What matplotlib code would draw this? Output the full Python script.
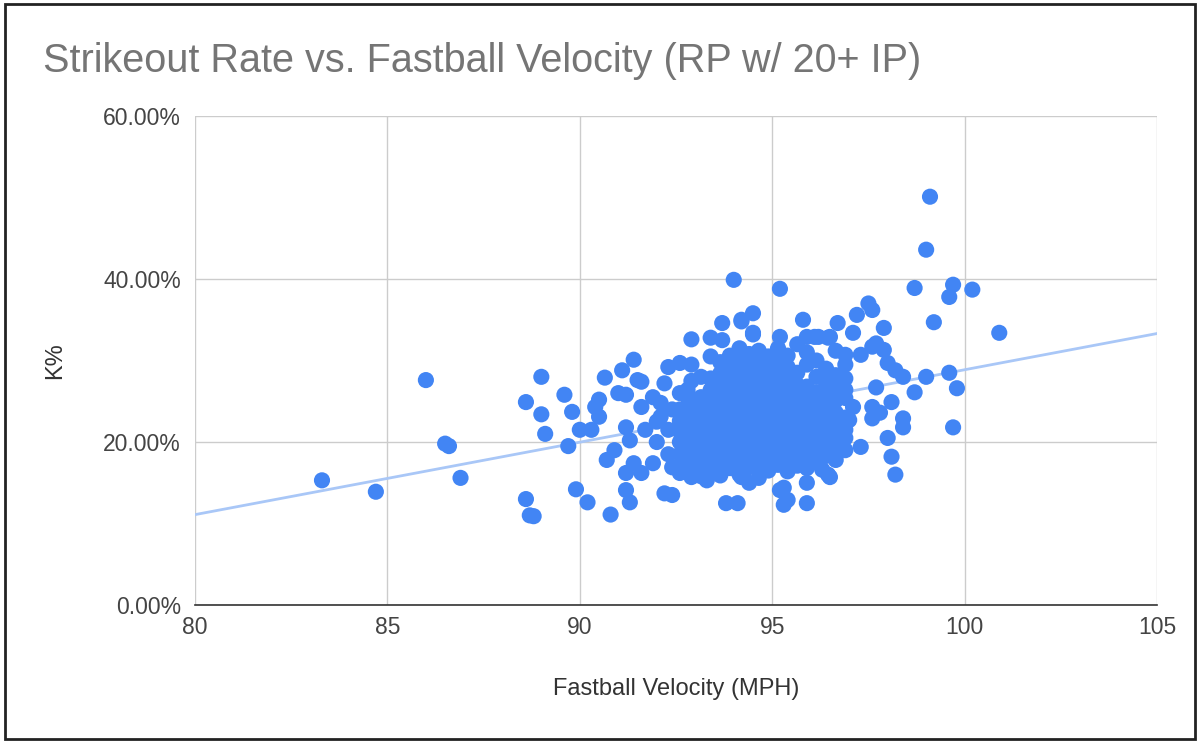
import numpy as np
import matplotlib
matplotlib.use("Agg")
import matplotlib.pyplot as plt
from matplotlib.patches import Rectangle

plt.rcParams['font.family'] = ['Liberation Sans', 'DejaVu Sans']

title = "Strikeout Rate vs. Fastball Velocity (RP w/ 20+ IP)"
x_label = "Fastball Velocity (MPH)"
y_label = "K%"
x_ticks = [80, 85, 90, 95, 100, 105]
y_ticks = [0, 20, 40, 60]

# Outlying / sparse points (velocity mph, K%)
vel_sparse = [83.3, 84.7, 86.0, 86.5, 86.6, 86.9, 88.6, 88.6, 88.7, 88.8,
              89.0, 89.0, 89.1, 89.6, 89.7, 89.8, 89.9, 90.0, 90.2, 90.3,
              90.4, 90.5, 90.5, 90.65, 90.7, 90.8, 90.9, 91.0, 91.1, 91.2,
              91.2, 91.2, 91.2, 91.3, 91.3, 91.4, 91.4, 91.5, 91.6, 91.6,
              91.6, 91.7, 91.9, 91.9, 92.1, 92.0, 92.1, 92.2, 92.2, 92.3,
              92.4, 92.4, 92.6, 92.6, 92.8, 92.8, 92.9, 92.9, 93.3, 93.4,
              93.7, 93.7, 93.8, 94.0, 94.1, 94.2, 94.2, 94.2, 94.4, 94.5,
              94.5, 94.5, 95.2, 95.2, 95.2, 95.3, 95.3, 95.4, 95.8, 95.9,
              95.9, 95.9, 96.1, 96.2, 96.3, 96.45, 96.45, 96.5, 96.5, 96.7,
              96.9, 96.9, 96.9, 97.0, 97.1, 97.1, 97.2, 97.3, 97.3, 97.5,
              97.6, 97.6, 97.6, 97.6, 97.7, 97.7, 97.8, 97.9, 97.9, 98.0,
              98.0, 98.1, 98.1, 98.2, 98.2, 98.4, 98.4, 98.4, 98.7, 98.7,
              99.0, 99.0, 99.1, 99.2, 99.6, 99.6, 99.7, 99.7, 99.8, 100.2,
              100.9, 92.0, 92.3, 92.4, 92.3]
k_sparse = [15.3, 13.9, 27.6, 19.8, 19.5, 15.6, 24.9, 13.0, 11.0, 10.9,
            28.0, 23.4, 21.0, 25.8, 19.5, 23.7, 14.2, 21.5, 12.6, 21.5,
            24.3, 25.2, 23.1, 27.9, 17.8, 11.1, 19.0, 26.0, 28.8, 25.8,
            21.8, 16.2, 14.1, 12.6, 20.2, 30.1, 17.4, 27.6, 27.4, 24.3,
            16.2, 21.5, 25.5, 17.4, 24.8, 22.5, 23.1, 27.2, 13.7, 29.2,
            13.5, 16.9, 29.7, 16.2, 26.4, 25.5, 32.6, 15.7, 15.3, 32.8,
            32.5, 34.6, 12.5, 39.9, 12.5, 34.8, 15.7, 35.0, 15.0, 35.8,
            33.2, 33.4, 38.8, 32.9, 14.1, 12.3, 14.4, 12.9, 35.0, 15.0,
            12.5, 32.9, 32.9, 32.9, 16.6, 16.0, 32.8, 32.9, 15.7, 34.6,
            26.4, 20.5, 30.7, 22.7, 33.4, 24.3, 35.6, 30.7, 19.4, 37.0,
            36.2, 31.7, 24.3, 22.9, 32.1, 26.7, 23.6, 34.0, 31.3, 29.7,
            20.5, 24.9, 18.2, 28.8, 16.0, 28.0, 22.9, 21.8, 38.9, 26.1,
            43.6, 28.0, 50.1, 34.7, 28.5, 37.8, 39.3, 21.8, 26.6, 38.7,
            33.4, 20.0, 21.5, 24.0, 18.5]

# Dense core of the cloud (velocity mph, K%)
vel_core = [92.6, 92.6, 92.6, 92.6, 92.6, 92.6, 92.6,
            92.9, 92.9, 92.9, 92.9, 92.9, 92.9, 92.9, 92.9, 92.9,
            93.15, 93.15, 93.15, 93.15, 93.15, 93.15, 93.15, 93.15, 93.15,
            93.4, 93.4, 93.4, 93.4, 93.4, 93.4, 93.4, 93.4, 93.4, 93.4,
            93.65, 93.65, 93.65, 93.65, 93.65, 93.65, 93.65, 93.65, 93.65, 93.65, 93.65,
            93.9, 93.9, 93.9, 93.9, 93.9, 93.9, 93.9, 93.9, 93.9, 93.9, 93.9,
            94.15, 94.15, 94.15, 94.15, 94.15, 94.15, 94.15, 94.15, 94.15, 94.15, 94.15, 94.15,
            94.4, 94.4, 94.4, 94.4, 94.4, 94.4, 94.4, 94.4, 94.4, 94.4, 94.4,
            94.65, 94.65, 94.65, 94.65, 94.65, 94.65, 94.65, 94.65, 94.65, 94.65, 94.65, 94.65,
            94.9, 94.9, 94.9, 94.9, 94.9, 94.9, 94.9, 94.9, 94.9, 94.9, 94.9,
            95.15, 95.15, 95.15, 95.15, 95.15, 95.15, 95.15, 95.15, 95.15, 95.15, 95.15,
            95.4, 95.4, 95.4, 95.4, 95.4, 95.4, 95.4, 95.4, 95.4, 95.4, 95.4,
            95.65, 95.65, 95.65, 95.65, 95.65, 95.65, 95.65, 95.65, 95.65, 95.65,
            95.9, 95.9, 95.9, 95.9, 95.9, 95.9, 95.9, 95.9, 95.9, 95.9,
            96.15, 96.15, 96.15, 96.15, 96.15, 96.15, 96.15, 96.15, 96.15,
            96.4, 96.4, 96.4, 96.4, 96.4, 96.4, 96.4, 96.4,
            96.65, 96.65, 96.65, 96.65, 96.65, 96.65, 96.65, 96.65, 96.65,
            96.9, 96.9, 96.9, 96.9, 96.9, 96.9]
k_core = [17.0, 18.5, 20.0, 21.3, 22.6, 24.0, 26.0,
          16.5, 18.0, 19.4, 20.8, 22.0, 23.3, 24.6, 27.5, 29.5,
          15.8, 17.3, 18.8, 20.2, 21.5, 22.8, 24.1, 25.5, 28.0,
          16.6, 18.0, 19.5, 20.9, 22.2, 23.6, 25.0, 26.4, 27.8, 30.5,
          15.9, 17.4, 18.7, 20.1, 21.4, 22.8, 24.2, 25.6, 27.0, 28.4, 29.8,
          16.8, 18.2, 19.6, 21.0, 22.3, 23.7, 25.1, 26.4, 27.7, 29.2, 30.6,
          16.0, 17.5, 18.9, 20.4, 21.7, 23.1, 24.5, 25.9, 27.2, 28.6, 30.0, 31.5,
          16.9, 18.3, 19.7, 21.0, 22.4, 23.8, 25.2, 26.6, 28.0, 29.4, 30.8,
          15.6, 17.2, 18.6, 20.0, 21.4, 22.7, 24.1, 25.5, 26.9, 28.3, 29.7, 31.2,
          16.5, 17.9, 19.3, 20.7, 22.1, 23.5, 24.9, 26.3, 27.6, 29.0, 30.5,
          17.2, 18.6, 20.0, 21.4, 22.8, 24.2, 25.6, 27.0, 28.4, 29.8, 31.5,
          16.4, 17.9, 19.3, 20.7, 22.1, 23.5, 24.9, 26.3, 27.7, 29.2, 30.6,
          17.1, 18.5, 20.0, 21.4, 22.8, 24.2, 25.6, 27.0, 28.5, 32.0,
          16.8, 18.2, 19.7, 21.1, 22.5, 23.9, 25.3, 26.8, 29.5, 31.0,
          17.5, 19.0, 20.4, 21.8, 23.2, 24.6, 26.1, 28.0, 30.0,
          18.3, 19.8, 21.2, 22.7, 24.1, 25.5, 27.2, 29.0,
          17.8, 19.3, 20.8, 22.2, 23.6, 25.1, 26.6, 28.2, 31.2,
          19.0, 21.5, 23.0, 25.4, 27.8, 29.5]

velocity = np.array(vel_sparse + vel_core)
k_rate = np.array(k_sparse + k_core)

blue = '#4285F4'
fig = plt.figure(figsize=(12, 7.5), dpi=100)
ax = fig.add_axes([0.1625, 0.1933, 0.8017, 0.652])

ax.scatter(velocity, k_rate, s=135, color=blue, edgecolors='none', zorder=3)

coef = np.polyfit(velocity, k_rate, 1)
xx = np.array([x_ticks[0], x_ticks[-1]])
ax.plot(xx, np.polyval(coef, xx), color='#a9c7f7', lw=2, zorder=2)

ax.set_xlim(x_ticks[0], x_ticks[-1])
ax.set_ylim(y_ticks[0], y_ticks[-1])
ax.set_xticks(x_ticks)
ax.set_yticks(y_ticks)
ax.set_yticklabels([f"{v:.2f}%" for v in y_ticks])
ax.grid(True, color='#cccccc', lw=1, zorder=0)
ax.set_axisbelow(True)
for s in ['top', 'right', 'left']:
    ax.spines[s].set_visible(False)
ax.spines['bottom'].set_color('#333333')
ax.spines['bottom'].set_linewidth(1.2)
ax.tick_params(length=0, labelsize=16.5, colors='#444444')
ax.tick_params(axis='x', pad=8)
ax.tick_params(axis='y', pad=10)
ax.set_xlabel(x_label, fontsize=17, color='#333333', labelpad=28)
ax.set_ylabel(y_label, fontsize=17, color='#333333', labelpad=27)

fig.text(0.036, 0.918, title, fontsize=28.5, color='#757575', ha='left', va='center')

fig.patches.append(Rectangle((0.004, 0.015), 0.992, 0.98, transform=fig.transFigure,
                             fill=False, edgecolor='#222222', lw=2))

fig.savefig('out.png', dpi=100)
